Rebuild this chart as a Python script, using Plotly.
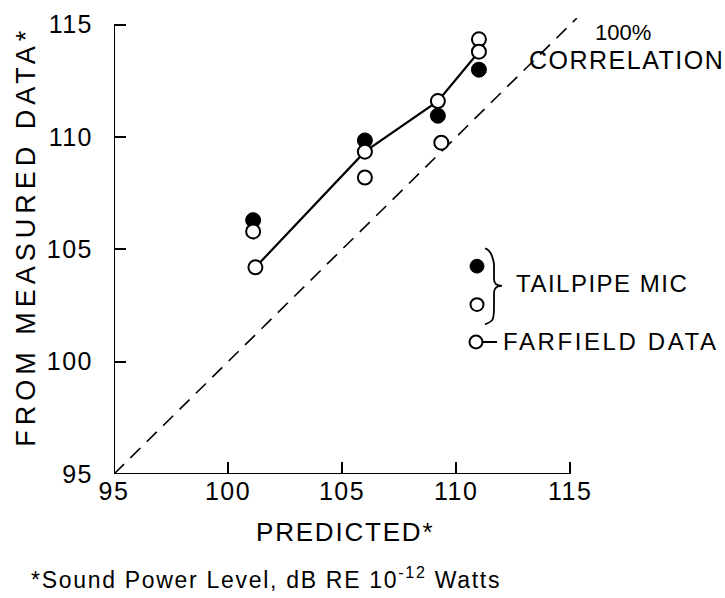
import plotly.graph_objects as go

# ---------------- data ----------------
farfield_pred = [101.2, 106.0, 109.2, 111.0]
farfield_meas = [104.2, 109.35, 111.6, 113.8]

tail_filled_pred = [101.1, 106.0, 109.2, 111.0]
tail_filled_meas = [106.3, 109.85, 110.95, 113.0]

tail_open_pred = [101.1, 106.0, 109.35, 111.0]
tail_open_meas = [105.8, 108.2, 109.75, 114.35]

corr_line = [95, 115.3]
tick_vals = [95, 100, 105, 110, 115]
tick_text = ["95", "100", "105", "110", "115"]

# ---------------- layout geometry ----------------
W, H = 725, 598
ML, MR, MT, MB = 114, 148, 11, 124
PW = W - ML - MR
PH = H - MT - MB
AX_MIN, AX_MAX = 95, 115.3

def px(x):
    return (x - ML) / PW

def py(y):
    return (H - MB - y) / PH

FONT = "Liberation Sans, Arial, Helvetica, sans-serif"
BLACK = "#000000"

def spaced(s, sp):
    return '<span style="letter-spacing:%spx">%s</span>' % (sp, s)

fig = go.Figure()

fig.add_trace(go.Scatter(
    x=corr_line, y=corr_line, mode="lines",
    line=dict(color=BLACK, width=1.6, dash="14px,9px"),
    hoverinfo="skip", showlegend=False))

fig.add_trace(go.Scatter(
    x=tail_filled_pred, y=tail_filled_meas, mode="markers",
    marker=dict(symbol="circle", size=15, color=BLACK, line=dict(color=BLACK, width=1)),
    showlegend=False, cliponaxis=False))

fig.add_trace(go.Scatter(
    x=tail_open_pred, y=tail_open_meas, mode="markers",
    marker=dict(symbol="circle", size=14, color="white", line=dict(color=BLACK, width=2)),
    showlegend=False, cliponaxis=False))

fig.add_trace(go.Scatter(
    x=farfield_pred, y=farfield_meas, mode="lines+markers",
    line=dict(color=BLACK, width=2.2),
    marker=dict(symbol="circle", size=14, color="white", line=dict(color=BLACK, width=2)),
    showlegend=False, cliponaxis=False))

# axis lines (from 95 to 115 only)
fig.add_shape(type="line", xref="x", yref="y", x0=95, x1=115, y0=95, y1=95,
              line=dict(color=BLACK, width=2))
fig.add_shape(type="line", xref="x", yref="y", x0=95, x1=95, y0=95, y1=115,
              line=dict(color=BLACK, width=2))

ann = []
def text(x, y, s, size, xanchor="center", yanchor="middle", spacing=0, textangle=0):
    if spacing:
        s = spaced(s, spacing)
    ann.append(dict(x=px(x), y=py(y), xref="paper", yref="paper", text=s,
                    showarrow=False, xanchor=xanchor, yanchor=yanchor,
                    textangle=textangle, borderpad=0,
                    font=dict(family=FONT, size=size, color=BLACK)))

text(345, 533, "PREDICTED*", 26, spacing=1.8)
text(26, 233, "FROM MEASURED DATA*", 27, spacing=5, textangle=-90)
text(623, 26, "100%", 22)
text(528, 54, "CORRELATION", 25, xanchor="left", spacing=1.5)
text(515, 281, "TAILPIPE MIC", 24, xanchor="left", spacing=1.5)
text(502, 339, "FARFIELD DATA", 24, xanchor="left", spacing=2.6)
text(30, 580, "*Sound Power Level, dB RE 10<sup>-12</sup> Watts", 23, xanchor="left", spacing=1.7)

# legend symbols
def circle(cx, cy, r, fill, lw):
    fig.add_shape(type="circle", xref="paper", yref="paper",
                  x0=px(cx - r), x1=px(cx + r), y0=py(cy + r), y1=py(cy - r),
                  fillcolor=fill, line=dict(color=BLACK, width=lw), layer="above")

circle(477, 263, 7, BLACK, 1)
circle(477, 302, 6.5, "white", 2)
fig.add_shape(type="line", xref="paper", yref="paper",
              x0=px(483), x1=px(497), y0=py(340), y1=py(340),
              line=dict(color=BLACK, width=2))
circle(476, 340, 6.5, "white", 2)

# brace
pts = [(485, 245), (493, 247), (494, 262), (494, 276), (502, 283),
       (494, 290), (494, 305), (493, 319), (485, 322)]
path = "M %f,%f" % (px(pts[0][0]), py(pts[0][1]))
path += " C %f,%f %f,%f %f,%f" % (px(pts[1][0]), py(pts[1][1]), px(pts[2][0]), py(pts[2][1]), px(pts[2][0]), py(pts[2][1]+0.01))
path += " L %f,%f" % (px(pts[3][0]), py(pts[3][1]))
path += " Q %f,%f %f,%f" % (px(494), py(283), px(pts[4][0]), py(pts[4][1]))
path += " Q %f,%f %f,%f" % (px(494), py(283), px(pts[5][0]), py(pts[5][1]))
path += " L %f,%f" % (px(pts[6][0]), py(pts[6][1]))
path += " C %f,%f %f,%f %f,%f" % (px(494), py(318), px(pts[7][0]), py(pts[7][1]), px(pts[8][0]), py(pts[8][1]))
fig.add_shape(type="path", xref="paper", yref="paper", path=path,
              line=dict(color=BLACK, width=1.8))

axis_common = dict(
    range=[AX_MIN, AX_MAX], tickvals=tick_vals,
    ticktext=[spaced(t, 1.5) for t in tick_text],
    ticks="inside", ticklen=12, tickwidth=1.5, tickcolor=BLACK,
    showline=False, showgrid=False, zeroline=False,
    tickfont=dict(family=FONT, size=25, color=BLACK),
)

fig.update_layout(
    width=W, height=H,
    margin=dict(l=ML, r=MR, t=MT, b=MB),
    paper_bgcolor="white", plot_bgcolor="white",
    xaxis=dict(**axis_common, ticklabelstandoff=0),
    yaxis=dict(**axis_common, ticklabelstandoff=20),
    annotations=ann,
    showlegend=False,
)

fig.write_html("out.html")
